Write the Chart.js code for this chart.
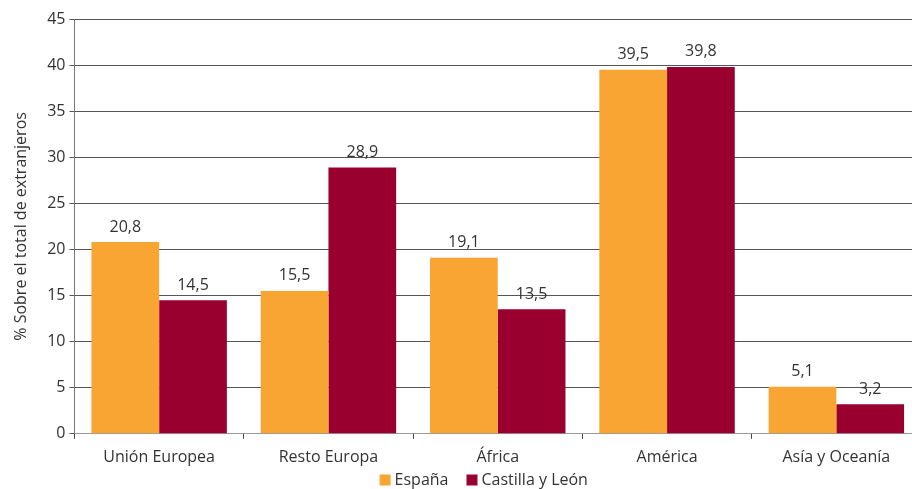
<!DOCTYPE html>
<html>
<head>
<meta charset="utf-8">
<script src="https://cdn.jsdelivr.net/npm/chart.js@4/dist/chart.umd.min.js"></script>
<style>
html,body{margin:0;padding:0;background:#fff;overflow:hidden;}
#wrap{width:912px;height:489px;overflow:hidden;}
</style>
</head>
<body>
<div id="wrap"><canvas id="c" width="921" height="489"></canvas></div>
<script>
const categories = ["Unión Europea", "Resto Europa", "África", "América", "Asía y Oceanía"];
const espana = [20.8, 15.5, 19.1, 39.5, 5.1];
const castilla = [14.5, 28.9, 13.5, 39.8, 3.2];
const seriesNames = ["España", "Castilla y León"];
const yTitle = "% Sobre el total de extranjeros";

const FONT = "'Open Sans', 'Noto Sans', sans-serif";
const TXT = "#333333";
const FS = 16;

const labelPlugin = {
  id: 'valueLabels',
  afterDatasetsDraw(chart) {
    const ctx = chart.ctx;
    ctx.save();
    ctx.font = FS + "px " + FONT;
    ctx.fillStyle = TXT;
    ctx.textAlign = 'center';
    ctx.textBaseline = 'bottom';
    chart.data.datasets.forEach((ds, i) => {
      const meta = chart.getDatasetMeta(i);
      meta.data.forEach((el, j) => {
        const v = ds.data[j];
        ctx.fillText(v.toFixed(1).replace('.', ','), el.x, el.y - 7);
      });
    });
    ctx.restore();
  }
};

const legendPlugin = {
  id: 'customLegend',
  afterDraw(chart) {
    const ctx = chart.ctx;
    ctx.save();
    ctx.font = FS + "px " + FONT;
    ctx.textBaseline = 'middle';
    ctx.textAlign = 'left';
    const box = 11, gapText = 4, gapItem = 18;
    const items = chart.data.datasets.map(ds => ({ text: ds.label, color: ds.backgroundColor, w: ctx.measureText(ds.label).width }));
    let total = 0;
    items.forEach((it, i) => { total += box + gapText + it.w + (i < items.length - 1 ? gapItem : 0); });
    const ca = chart.chartArea;
    let x = (ca.left + ca.right) / 2 - 14 - total / 2;
    const y = 480;
    items.forEach(it => {
      ctx.fillStyle = it.color;
      ctx.fillRect(x, y - box / 2, box, box);
      ctx.fillStyle = TXT;
      ctx.fillText(it.text, x + box + gapText, y);
      x += box + gapText + it.w + gapItem;
    });
    ctx.restore();
  }
};

new Chart(document.getElementById('c'), {
  type: 'bar',
  data: {
    labels: categories,
    datasets: [
      { label: seriesNames[0], data: espana, backgroundColor: '#F9A533', categoryPercentage: 0.8, barPercentage: 1.0 },
      { label: seriesNames[1], data: castilla, backgroundColor: '#990030', categoryPercentage: 0.8, barPercentage: 1.0 }
    ]
  },
  options: {
    responsive: false,
    animation: false,
    devicePixelRatio: 1,
    layout: { padding: { left: 8, right: 0, top: 19, bottom: 13 } },
    plugins: {
      legend: { display: false },
      tooltip: { enabled: false }
    },
    scales: {
      x: {
        grid: { display: true, drawOnChartArea: false, drawTicks: true, tickLength: 5, color: '#444', offset: true },
        border: { color: '#999', width: 1 },
        ticks: { color: TXT, font: { family: FONT, size: FS }, padding: 9 }
      },
      y: {
        min: 0, max: 45,
        ticks: { stepSize: 5, color: TXT, font: { family: FONT, size: FS }, padding: 4 },
        grid: { color: '#555', tickLength: 5, lineWidth: 1 },
        border: { color: '#777', width: 1 },
        title: { display: true, text: yTitle, color: TXT, font: { family: FONT, size: FS }, padding: { bottom: 12 } }
      }
    }
  },
  plugins: [labelPlugin, legendPlugin]
});
</script>
</body>
</html>
